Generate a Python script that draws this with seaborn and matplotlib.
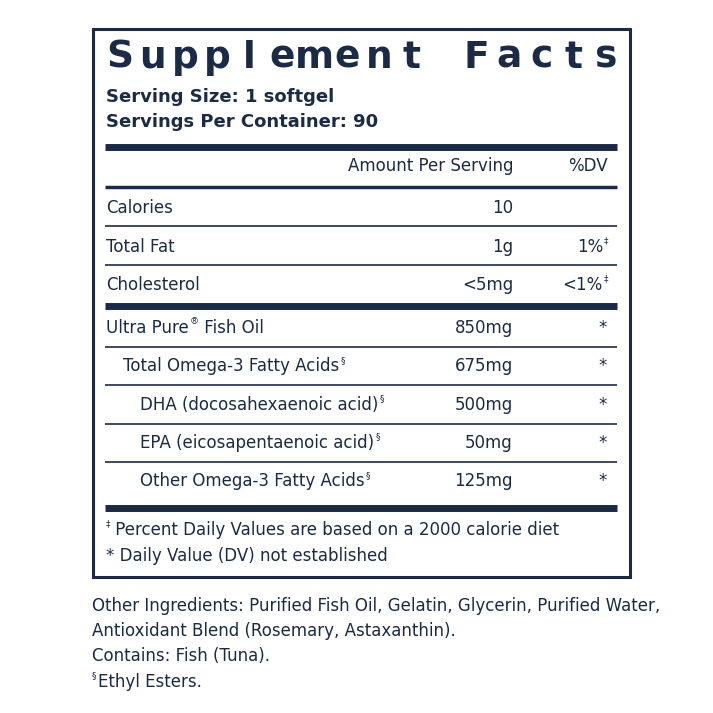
import matplotlib
matplotlib.use("Agg")
import matplotlib.pyplot as plt
import seaborn as sns

sns.set_theme(style="white")
plt.rcParams['font.family'] = ['DejaVu Sans Condensed', 'Liberation Sans Narrow', 'DejaVu Sans']

navy = "#1b2b45"

# label data
serving = ["Serving Size: 1 softgel", "Servings Per Container: 90"]
rows = [("Calories", "", 10, "", ""), ("Total Fat", "", "1g", "1%", "‡"),
        ("Cholesterol", "", "<5mg", "<1%", "‡")]
rows2 = [("Ultra Pure", "®", " Fish Oil", "850mg", "*", 0),
         ("Total Omega-3 Fatty Acids", "§", "", "675mg", "*", 1),
         ("DHA (docosahexaenoic acid)", "§", "", "500mg", "*", 2),
         ("EPA (eicosapentaenoic acid)", "§", "", "50mg", "*", 2),
         ("Other Omega-3 Fatty Acids", "§", "", "125mg", "*", 2)]
footnotes = [("‡", " Percent Daily Values are based on a 2000 calorie diet"),
             ("", "* Daily Value (DV) not established")]
other = ["Other Ingredients: Purified Fish Oil, Gelatin, Glycerin, Purified Water,",
         "Antioxidant Blend (Rosemary, Astaxanthin).",
         "Contains: Fish (Tuna)."]

fig = plt.figure(figsize=(7.13, 7.13), dpi=100)
ax = fig.add_axes([0, 0, 1, 1])
ax.set_xlim(0, 713)
ax.set_ylim(713, 0)
ax.axis("off")
fig.canvas.draw()
r = fig.canvas.get_renderer()
fs = 12


def txt(x, y, s, sup="", tail="", **kw):
    t = ax.text(x, y, s, color=navy, fontsize=fs, va="center", **kw)
    if sup:
        bb = t.get_window_extent(r).transformed(ax.transData.inverted())
        xe = max(bb.x0, bb.x1)
        s2 = ax.text(xe + 1, y - 6, sup, color=navy, fontsize=6.5, va="center")
        if tail:
            bb2 = s2.get_window_extent(r).transformed(ax.transData.inverted())
            ax.text(max(bb2.x0, bb2.x1), y, tail, color=navy, fontsize=fs, va="center")


def rule(y, lw):
    ax.plot([105, 617], [y, y], color=navy, lw=lw, solid_capstyle="butt")


# outer box
ax.add_patch(plt.Rectangle((93, 29), 537, 548, fill=False, ec=navy, lw=2.2))

# title with wide letter spacing
title = "Supplement Facts"
n = len(title)
for i, ch in enumerate(title):
    ax.text(120 + i * (486 / (n - 1)), 58, ch, color=navy, fontsize=27,
            fontweight="bold", family="DejaVu Sans", ha="center", va="center")

for i, s in enumerate(serving):
    ax.text(106, 97 + 25 * i, s, color=navy, fontsize=13, fontweight="bold", va="center")

rule(147, 5)
txt(513, 166, "Amount Per Serving", ha="right")
txt(608, 166, "%DV", ha="right")
rule(187, 2.5)

y = 208
for name, _, amt, dv, sup in rows:
    txt(106, y, name)
    txt(513, y, str(amt), ha="right")
    if dv:
        txt(603, y, dv, ha="right")
        ax.text(604, y - 6, sup, color=navy, fontsize=6.5, va="center")
    if name != "Cholesterol":
        rule(y + 18, 1.2)
    y += 38.5
rule(306, 5)

y = 328
for i, (name, sup, tail, amt, dv, ind) in enumerate(rows2):
    txt(106 + ind * 17, y, name, sup, tail)
    txt(513, y, amt, ha="right")
    txt(607, y, dv, ha="right")
    if i < len(rows2) - 1:
        rule(y + 19, 1.2)
    y += 38.3
rule(508, 5)

for i, (sup, s) in enumerate(footnotes):
    y = 530 + 26 * i
    if sup:
        ax.text(106, y - 6, sup, color=navy, fontsize=6.5, va="center")
        txt(110, y, s)
    else:
        txt(106, y, s)

for i, s in enumerate(other):
    txt(92, 606 + 25 * i, s)
ax.text(92, 676, "§", color=navy, fontsize=6.5, va="center")
txt(98, 682, "Ethyl Esters.")

fig.savefig("out.png", dpi=100)
